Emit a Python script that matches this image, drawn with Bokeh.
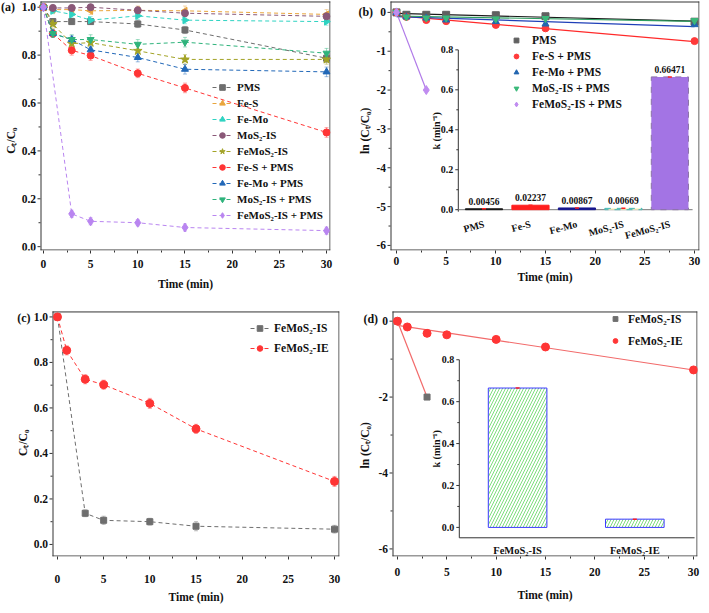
import numpy as np
from bokeh.plotting import figure
from bokeh.layouts import row, column
from bokeh.models import (Range1d, FixedTicker, Legend, LegendItem, Whisker, TeeHead,
                          ColumnDataSource, LinearAxis, CustomJSTickFormatter)
from bokeh.core.properties import value
from bokeh.embed import file_html
from bokeh.resources import INLINE

FONT = "Liberation Serif"
AX = "#333333"
TXT = "#111111"

# ---------------- data ----------------
t_all = [0, 1, 3, 5, 10, 15, 30]
t_fast = [0, 3, 5, 10, 15, 30]
t_two = [0, 3]

# (a) Ct/C0
a_pms = [1.0, 0.94, 0.94, 0.94, 0.93, 0.905, 0.787]
a_fes = [1.0, 0.99, 0.99, 0.985, 0.987, 0.985, 0.97]
a_femo = [1.0, 0.985, 0.97, 0.946, 0.964, 0.946, 0.94]
a_mos2 = [1.0, 0.997, 0.997, 1.0, 0.987, 0.975, 0.962]
a_femos2 = [1.0, 0.93, 0.848, 0.852, 0.818, 0.782, 0.782]
a_fes_pms = [1.0, 0.89, 0.82, 0.798, 0.724, 0.663, 0.477]
a_femo_pms = [1.0, 0.89, 0.865, 0.822, 0.79, 0.741, 0.73]
a_mos2_pms = [1.0, 0.89, 0.865, 0.865, 0.845, 0.854, 0.808]
a_femos2_pms = [1.0, 0.137, 0.106, 0.10, 0.08, 0.067]

a_pms_err = [0.005, 0.012, 0.012, 0.012, 0.015, 0.015, 0.018]
a_fes_err = [0.005, 0.015, 0.015, 0.015, 0.018, 0.02, 0.02]
a_femo_err = [0.005, 0.012, 0.015, 0.015, 0.015, 0.015, 0.015]
a_mos2_err = [0.005, 0.012, 0.012, 0.012, 0.015, 0.015, 0.015]
a_femos2_err = [0.005, 0.02, 0.02, 0.02, 0.02, 0.02, 0.02]
a_fes_pms_err = [0.005, 0.015, 0.02, 0.02, 0.018, 0.02, 0.02]
a_femo_pms_err = [0.005, 0.015, 0.015, 0.015, 0.018, 0.02, 0.02]
a_mos2_pms_err = [0.005, 0.015, 0.02, 0.02, 0.02, 0.02, 0.02]
a_femos2_pms_err = [0.005, 0.015, 0.015, 0.013, 0.015, 0.015]

# (b) ln(Ct/C0)
b_pms = [0.0, -0.062, -0.062, -0.062, -0.073, -0.10, -0.24]
b_fes_pms = [0.0, -0.117, -0.198, -0.226, -0.323, -0.411, -0.740]
b_femo_pms = [0.0, -0.117, -0.145, -0.196, -0.236, -0.300, -0.315]
b_mos2_pms = [0.0, -0.117, -0.145, -0.145, -0.168, -0.158, -0.213]
b_femos2_pms = [0.0, -2.0]

k_labels = ["PMS", "Fe-S", "Fe-Mo", "MoS\u2082-IS", "FeMoS\u2082-IS"]
k_values = [0.00456, 0.02237, 0.00867, 0.00669, 0.66471]

# (c)
c_is = [1.0, 0.137, 0.106, 0.10, 0.08, 0.067]
c_ie = [1.0, 0.853, 0.726, 0.702, 0.62, 0.508, 0.277]
c_is_err = [0.005, 0.015, 0.018, 0.015, 0.02, 0.017]
c_ie_err = [0.008, 0.02, 0.02, 0.02, 0.022, 0.02, 0.022]

# (d)
d_is = [0.0, -2.0]
d_ie = [0.0, -0.153, -0.32, -0.36, -0.48, -0.68, -1.285]
k2_labels = ["FeMoS\u2082-IS", "FeMoS\u2082-IE"]
k2_values = [0.665, 0.0393]

# ticks
time_ticks = [0, 5, 10, 15, 20, 25, 30]
time_minor = [2.5, 7.5, 12.5, 17.5, 22.5, 27.5]
frac_ticks = [0.0, 0.2, 0.4, 0.6, 0.8, 1.0]
frac_minor = [0.1, 0.3, 0.5, 0.7, 0.9]
lnb_ticks = [-6, -5, -4, -3, -2, -1, 0]
lnb_minor = [-5.5, -4.5, -3.5, -2.5, -1.5, -0.5]
lnd_ticks = [-6, -4, -2, 0]
lnd_minor = [-5, -3, -1]
k_ticks = [0.0, 0.2, 0.4, 0.6, 0.8]
k_minor = [0.1, 0.3, 0.5, 0.7]

PX = dict(x_range_name="px", y_range_name="py")
IKW = dict(x_range_name="ix", y_range_name="iy")


# ---------------- helpers ----------------
def make_panel(w, h, box_l, b_r, b_t, b_b, xlo, xhi, ylo, yhi, lstand, tstand):
    """Frame starts at the figure's left edge; the plot box starts box_l px in,
    so the hand-drawn y axis and panel letter stay inside the frame."""
    fw = w - b_r
    fh = h - b_t - b_b
    kx = (fw - box_l) / (xhi - xlo)
    ky = (fh - 1) / (yhi - ylo)
    p = figure(width=w, height=h, x_range=Range1d(xlo - box_l / kx, xhi),
               y_range=Range1d(ylo, yhi + 1 / ky), y_axis_location=None,
               output_backend="svg", toolbar_location=None, min_border_left=0,
               min_border_right=b_r, min_border_top=b_t, min_border_bottom=b_b)
    p.xgrid.visible = False
    p.ygrid.visible = False
    p.background_fill_color = "white"
    p.border_fill_color = "white"
    p.outline_line_color = None
    p.extra_x_ranges = {"px": Range1d(0, fw)}
    p.extra_y_ranges = {"py": Range1d(0, fh)}
    # box
    p.segment(x0=[box_l, box_l, box_l + 0.5, fw - 0.5], y0=[0.5, fh - 1.5, 0, 0],
              x1=[fw, fw, box_l + 0.5, fw - 0.5], y1=[0.5, fh - 1.5, fh - 1, fh - 1],
              line_color=AX, line_width=1, **PX)
    # bottom axis (ticks + labels)
    ax = p.xaxis[0]
    ax.ticker = FixedTicker(ticks=time_ticks, minor_ticks=time_minor)
    ax.axis_line_color = None
    ax.major_tick_line_color = AX
    ax.minor_tick_line_color = AX
    ax.major_tick_in = 0
    ax.major_tick_out = 3
    ax.minor_tick_in = 0
    ax.minor_tick_out = 2
    ax.major_label_text_font = FONT
    ax.major_label_text_font_style = "bold"
    ax.major_label_text_font_size = "11.5px"
    ax.major_label_text_color = TXT
    ax.major_label_standoff = lstand
    # x title as a second bottom axis centred on the box
    tax = LinearAxis(ticker=FixedTicker(ticks=[(xlo + xhi) / 2], minor_ticks=[]),
                     formatter=CustomJSTickFormatter(code="return 'Time (min)';"),
                     axis_line_color=None, major_tick_line_color=None,
                     minor_tick_line_color=None, major_label_standoff=tstand,
                     major_label_text_font=FONT, major_label_text_font_style="bold",
                     major_label_text_font_size="11.5px", major_label_text_color=TXT)
    p.add_layout(tax, "below")
    return p, fw, fh


def y_axis(p, box_l, ticks, minor, fmt, title, title_x, title_py, letter, letter_x, letter_py):
    n, m = len(ticks), len(minor)
    p.segment(x0=[box_l - 3] * n, y0=ticks, x1=[box_l] * n, y1=ticks, line_color=AX,
              line_width=1, x_range_name="px")
    p.segment(x0=[box_l - 2] * m, y0=minor, x1=[box_l] * m, y1=minor, line_color=AX,
              line_width=1, x_range_name="px")
    p.text(x=[box_l - 4.5] * n, y=ticks, text=[fmt % t for t in ticks], x_range_name="px",
           text_align="right", text_baseline="middle", text_font=value(FONT),
           text_font_style="bold", text_font_size="11.5px", text_color=TXT)
    p.text(x=[title_x], y=[title_py], text=[title], angle=np.pi / 2, text_align="center",
           text_baseline="middle", text_font=value(FONT), text_font_style="bold",
           text_font_size="11.5px", text_color=TXT, **PX)
    p.text(x=[letter_x], y=[letter_py], text=[letter], text_align="left",
           text_baseline="middle", text_font=value(FONT), text_font_style="bold",
           text_font_size="12px", text_color=TXT, **PX)


def make_legend(items, loc, gw, gh, lh, sp, stand, size="11px"):
    return Legend(items=items, location=loc, glyph_width=gw, glyph_height=gh,
                  label_height=lh, spacing=sp, label_standoff=stand, padding=0, margin=0,
                  border_line_color=None, background_fill_alpha=0,
                  label_text_font=FONT, label_text_font_style="bold",
                  label_text_font_size=size, label_text_color=TXT)


def series_with_err(p, xs, ys, err, color, marker, size, angle=0.0, dash="4 3"):
    src = ColumnDataSource(dict(x=xs, y=ys,
                                up=[y + e for y, e in zip(ys, err)],
                                lo=[y - e for y, e in zip(ys, err)]))
    wk = Whisker(source=src, base="x", upper="up", lower="lo", line_color=color,
                 line_alpha=0.45, line_width=1,
                 upper_head=TeeHead(size=4, line_color=color, line_alpha=0.45),
                 lower_head=TeeHead(size=4, line_color=color, line_alpha=0.45))
    p.add_layout(wk)
    ln = p.line("x", "y", source=src, line_color=color, line_dash=dash, line_width=1)
    sc = p.scatter("x", "y", source=src, marker=marker, size=size, fill_color=color,
                   line_color=color, angle=angle)
    return ln, sc


def add_inset_ranges(p, frame_w, frame_h, first_px, step_px, zero_px, unit_px):
    xr = dict(p.extra_x_ranges)
    yr = dict(p.extra_y_ranges)
    xr["ix"] = Range1d(1 - first_px / step_px, 1 + (frame_w - first_px) / step_px)
    yr["iy"] = Range1d(-zero_px / unit_px, (frame_h - zero_px) / unit_px)
    p.extra_x_ranges = xr
    p.extra_y_ranges = yr


def inset_y_axis(p, x_axis, y_bottom, step_px, label, fs="10px", lab_off=-23):
    p.segment(x0=[x_axis], y0=[y_bottom], x1=[x_axis], y1=[max(k_ticks)], line_color=AX,
              line_width=1, **IKW)
    maj = 3.0 / step_px
    mnr = 2.0 / step_px
    p.segment(x0=[x_axis - maj] * len(k_ticks), y0=k_ticks, x1=[x_axis] * len(k_ticks),
              y1=k_ticks, line_color=AX, line_width=1, **IKW)
    p.segment(x0=[x_axis - mnr] * len(k_minor), y0=k_minor, x1=[x_axis] * len(k_minor),
              y1=k_minor, line_color=AX, line_width=1, **IKW)
    p.text(x=[x_axis] * len(k_ticks), y=k_ticks, text=["%.1f" % v for v in k_ticks],
           x_offset=-5, text_align="right", text_baseline="middle", text_font=value(FONT),
           text_font_style="bold", text_font_size=fs, text_color=TXT, **IKW)
    mid = (max(k_ticks) + y_bottom) / 2
    p.text(x=[x_axis], y=[mid], text=[label], angle=np.pi / 2, x_offset=lab_off,
           text_align="center", text_baseline="middle", text_font=value(FONT),
           text_font_style="bold", text_font_size=fs, text_color=TXT, **IKW)


# ---------------- panel (a) ----------------
pa, fwa, fha = make_panel(355, 300, 40, 25, 0, 45, -0.31, 30.42, -0.016, 1.024, 6, 1)
y_axis(pa, 40, frac_ticks, frac_minor, "%.1f", "C\u209c/C\u2080", 10, 112, "(a)", 0.5, 248)

a_series = [
    ("PMS", t_all, a_pms, a_pms_err, "#6e6e6e", "square", 6, 0.0),
    ("Fe-S", t_all, a_fes, a_fes_err, "#e9a53c", "triangle", 7, np.pi / 2),
    ("Fe-Mo", t_all, a_femo, a_femo_err, "#2fd3c2", "triangle", 7, -np.pi / 2),
    ("MoS\u2082-IS", t_all, a_mos2, a_mos2_err, "#8a5878", "circle", 7, 0.0),
    ("FeMoS\u2082-IS", t_all, a_femos2, a_femos2_err, "#a3a326", "star", 9, 0.0),
    ("Fe-S + PMS", t_all, a_fes_pms, a_fes_pms_err, "#ff3535", "circle", 7, 0.0),
    ("Fe-Mo + PMS", t_all, a_femo_pms, a_femo_pms_err, "#2268b8", "triangle", 7, 0.0),
    ("MoS\u2082-IS + PMS", t_all, a_mos2_pms, a_mos2_pms_err, "#2fb37c", "inverted_triangle", 7, 0.0),
    ("FeMoS\u2082-IS + PMS", t_fast, a_femos2_pms, a_femos2_pms_err, "#b985f0", "diamond", 9, 0.0),
]
a_items = []
for lab, xs, ys, err, col, mk, sz, ang in a_series:
    ln, sc = series_with_err(pa, xs, ys, err, col, mk, sz, ang)
    a_items.append(LegendItem(label=lab, renderers=[ln, sc]))
pa.add_layout(make_legend(a_items, (212, 28), 20, 14, 14, 2, 5))

# ---------------- panel (b) ----------------
pb, fwb, fhb = make_panel(346, 300, 35, 2, 0, 50, -0.6, 30.5, -6.13, 0.28, 3, -3)
y_axis(pb, 35, lnb_ticks, lnb_minor, "%d", "ln (C\u209c/C\u2080)", 9.8, 119.7, "(b)", 2.9, 238.2)

# inset (b): bar chart of k
B_STEP, B_UNIT = 46.47, 199.8
add_inset_ranges(pb, fwb, fhb, 128.5, B_STEP, 40.8, B_UNIT)
kx = list(range(1, len(k_values) + 1))
bx_axis, bx_end = 0.447, 5.489
inset_y_axis(pb, bx_axis, -0.01, B_STEP, "k (min\u207b\u00b9)", lab_off=-22)
pb.segment(x0=[bx_axis], y0=[0], x1=[bx_end], y1=[0], line_color="#777777", line_width=1, **IKW)
bar_fill = ["#151515", "#ff1f1f", "#16168e", "#fbf6c4", "#a374e4"]
bar_line = ["#151515", "#ff1f1f", "#16168e", "#3fb5b5", "#8c72a8"]
bar_dash = ["solid", "solid", "solid", "dashed", "dashed"]
for x, v, fc, lc, ld in zip(kx, k_values, bar_fill, bar_line, bar_dash):
    pb.vbar(x=[x], top=[v], bottom=0, width=0.8, fill_color=fc, line_color=lc,
            line_dash=ld, line_width=1, **IKW)
pb.scatter(kx, k_values, marker="dash", size=4, line_color="#ff2020", line_width=1.5, **IKW)
pb.text(kx, k_values, text=["%.5f" % v for v in k_values], text_font=value(FONT),
        text_font_style="bold", text_font_size="9.5px", text_align="center",
        text_baseline="bottom", y_offset=-4, text_color=TXT, **IKW)
pb.text(kx, [0] * len(kx), text=k_labels, angle=0.26, y_offset=14, text_align="right",
        text_baseline="middle", text_font=value(FONT), text_font_style="bold",
        text_font_size="10px", text_color=TXT, **IKW)

b_series = [
    ("PMS", t_all, b_pms, "#1a1a1a", "#606060", "square", 7),
    ("Fe-S + PMS", t_all, b_fes_pms, "#ff2a2a", "#ff3a3a", "circle", 7),
    ("Fe-Mo + PMS", t_all, b_femo_pms, "#1f3fb8", "#2266b0", "triangle", 7),
    ("MoS\u2082-IS + PMS", t_all, b_mos2_pms, "#2e9e60", "#3ab97a", "inverted_triangle", 7),
    ("FeMoS\u2082-IS + PMS", t_two, b_femos2_pms, "#b07ae8", "#c08cf0", "diamond", 9),
]
b_items = []
for lab, xs, ys, lcol, mcol, mk, sz in b_series:
    slope, icpt = np.polyfit(xs, ys, 1)
    fx = [min(xs), max(xs)]
    pb.line(fx, [icpt + slope * v for v in fx], line_color=lcol, line_width=1.2)
for lab, xs, ys, lcol, mcol, mk, sz in b_series:
    sc = pb.scatter(xs, ys, marker=mk, size=sz, fill_color=mcol, line_color=mcol)
    b_items.append(LegendItem(label=lab, renderers=[sc]))
pb.add_layout(make_legend(b_items, (155, 140), 12, 12, 12, 4, 10, size="11.5px"))

# ---------------- panel (c) ----------------
pc, fwc, fhc = make_panel(355, 305, 52, 16, 10, 40, -0.54, 30.54, -0.053, 1.024, 15, -1)
y_axis(pc, 52, frac_ticks, frac_minor, "%.1f", "C\u209c/C\u2080", 22, 117.9, "(c)", 16.8, 247.2)
c_items = []
ln, sc = series_with_err(pc, t_fast, c_is, c_is_err, "#6e6e6e", "square", 6)
c_items.append(LegendItem(label="FeMoS\u2082-IS", renderers=[ln, sc]))
ln, sc = series_with_err(pc, t_all, c_ie, c_ie_err, "#ff3535", "circle", 8)
c_items.append(LegendItem(label="FeMoS\u2082-IE", renderers=[ln, sc]))
pc.add_layout(make_legend(c_items, (250, 201), 19, 14, 14, 6, 5, size="11.5px"))

# ---------------- panel (d) ----------------
pd, fwd, fhd = make_panel(346, 305, 37, 4, 10, 44, -0.5, 30.4, -6.2, 0.255, 8, 4)
y_axis(pd, 37, lnd_ticks, lnd_minor, "%d", "ln (C\u209c/C\u2080)", 9.8, 113.4, "(d)", 7.9, 242.2)

# inset (d)
D_STEP, D_UNIT = 117.2, 213.8
add_inset_ranges(pd, fwd, fhd, 162.1, D_STEP, 29.7, D_UNIT)
kx2 = list(range(1, len(k2_values) + 1))
dx_axis, dx_end, dy_bot = 0.5026, 2.51, -0.0496
inset_y_axis(pd, dx_axis, dy_bot, D_STEP, "k (min\u207b\u00b9)", lab_off=-23)
pd.segment(x0=[dx_axis], y0=[dy_bot], x1=[dx_end], y1=[dy_bot], line_color=AX,
           line_width=1, **IKW)
pd.vbar(x=kx2, top=k2_values, bottom=0, width=0.5, fill_color="white", line_color="#3a3aff",
        line_width=1, hatch_pattern="/", hatch_color="#7ede7e", hatch_scale=6, hatch_weight=1,
        **IKW)
pd.scatter(kx2, k2_values, marker="dash", size=4, line_color="#ff2020", line_width=1.5, **IKW)
pd.text(kx2, [dy_bot] * len(kx2), text=k2_labels, y_offset=7, text_align="center",
        text_baseline="top", text_font=value(FONT), text_font_style="bold",
        text_font_size="10.5px", text_color=TXT, **IKW)

for xs, ys in [(t_two, d_is), (t_all, d_ie)]:
    slope, icpt = np.polyfit(xs, ys, 1)
    fx = [min(xs), max(xs)]
    pd.line(fx, [icpt + slope * v for v in fx], line_color="#f26a6a", line_width=1.2)
s_is = pd.scatter(t_two, d_is, marker="square", size=6, fill_color="#6e6e6e", line_color="#6e6e6e")
s_ie = pd.scatter(t_all, d_ie, marker="circle", size=8, fill_color="#ff3535", line_color="#ff3535")
pd.add_layout(make_legend([LegendItem(label="FeMoS\u2082-IS", renderers=[s_is]),
                           LegendItem(label="FeMoS\u2082-IE", renderers=[s_ie])],
                          (254, 208), 12, 15, 15, 7, 7, size="11.5px"))

layout = column(row(pa, pb), row(pc, pd))

open("out.html", "w").write(file_html(layout, INLINE))
